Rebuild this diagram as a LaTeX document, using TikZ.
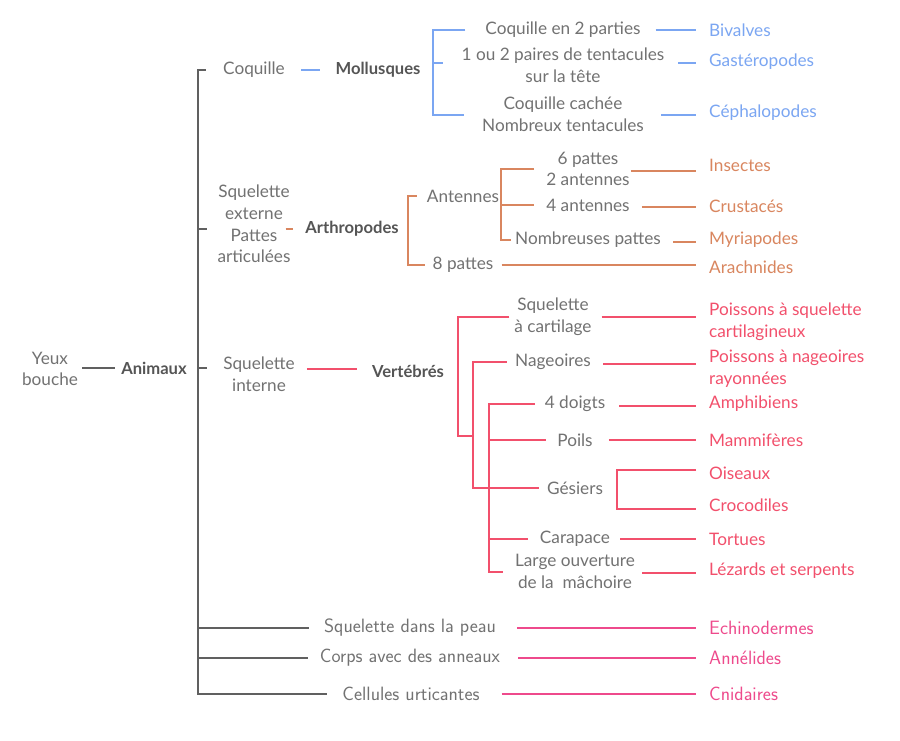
\documentclass[tikz,border=0pt]{standalone}
\usepackage{fontspec}
\setmainfont{Lato}
\usetikzlibrary{calc}
\definecolor{TextGray}{HTML}{727272}
\definecolor{HeadGray}{HTML}{555555}
\definecolor{LineGray}{HTML}{606060}
\definecolor{MolBlue}{HTML}{7BA6F2}
\definecolor{ArthOrange}{HTML}{D9865F}
\definecolor{VertRed}{HTML}{F2506C}
\definecolor{InvPink}{HTML}{EE4A8C}

\begin{document}
\begin{tikzpicture}[
  x=1pt, y=-1pt,
  txt/.style={text=TextGray, font=\fontsize{17.2}{21.7}\selectfont, align=center, inner sep=0pt},
  hd/.style={txt, text=HeadGray, font=\fontsize{16.6}{21.7}\selectfont\bfseries},
  lmtxt/.style={txt, font=\fontsize{19.3}{21.7}\selectfont\sffamily},
  leaf/.style={txt, anchor=west, align=left},
  lmleaf/.style={lmtxt, anchor=west, align=left},
  ln/.style={line width=2pt},
  tie/.style={ln, shorten <=12pt, shorten >=13pt},
]
  \fill[white] (0,0) rectangle (900,740);
  \useasboundingbox (0,0) rectangle (900,740);

  % root and first level
  \node[txt] (yeux) at (50,369) {Yeux\\bouche};
  \node[hd]  (anim) at (154,368) {Animaux};
  \node[txt] (coq)  at (254,70)  {Coquille};
  \node[hd]  (moll) at (378,70)  {Mollusques};
  \node[txt] (sqext) at (254,224) {Squelette\\externe\\Pattes\\articulées};
  \node[hd]  (arth) at (352,229) {Arthropodes};
  \node[txt] (sqint) at (259,374) {Squelette\\interne};
  \node[hd]  (vert) at (408,371) {Vertébrés};
  \node[lmtxt] (peau) at (410,628) {Squelette dans la peau};
  \node[lmtxt] (ann)  at (410,658) {Corps avec des anneaux};
  \node[lmtxt] (cell) at (411,694) {Cellules urticantes};

  % mollusques
  \node[txt] (c2p)  at (563,30)    {Coquille en 2 parties};
  \node[txt] (tent) at (563,65.5)  {1 ou 2 paires de tentacules\\sur la tête};
  \node[txt] (cach) at (563,114.5) {Coquille cachée\\Nombreux tentacules};
  \node[leaf, text=MolBlue] (biv)  at (709,30)  {Bivalves};
  \node[leaf, text=MolBlue] (gast) at (709,62)  {Gastéropodes};
  \node[leaf, text=MolBlue] (ceph) at (709,113) {Céphalopodes};

  % arthropodes
  \node[txt] (ant)  at (463,196) {Antennes};
  \node[txt] (p8)   at (463,265) {8 pattes};
  \node[txt] (p6)   at (588,169) {6 pattes\\2 antennes};
  \node[txt] (a4)   at (588,205) {4 antennes};
  \node[txt] (nomb) at (588,240) {Nombreuses pattes};
  \node[leaf, text=ArthOrange] (ins)   at (709,165) {Insectes};
  \node[leaf, text=ArthOrange] (crus)  at (709,206) {Crustacés};
  \node[leaf, text=ArthOrange] (myr)   at (709,240) {Myriapodes};
  \node[leaf, text=ArthOrange] (arach) at (709,267) {Arachnides};

  % vertebres
  \node[txt] (sqc)  at (553,317)   {Squelette\\à cartilage};
  \node[txt] (nag)  at (553,362)   {Nageoires};
  \node[txt] (doi)  at (575,404)   {4 doigts};
  \node[txt] (poi)  at (575,440)   {Poils};
  \node[txt] (ges)  at (575,488)   {Gésiers};
  \node[txt] (car)  at (575,539)   {Carapace};
  \node[txt] (mach) at (575,571.5) {Large ouverture\\de la\ \ mâchoire};
  \node[leaf, text=VertRed] (pcart) at (709,321.5) {Poissons à squelette\\cartilagineux};
  \node[leaf, text=VertRed] (pray)  at (709,369)   {Poissons à nageoires\\rayonnées};
  \node[leaf, text=VertRed] (amph)  at (709,404) {Amphibiens};
  \node[leaf, text=VertRed] (mamm)  at (709,440) {Mammifères};
  \node[leaf, text=VertRed] (ois)   at (709,473) {Oiseaux};
  \node[leaf, text=VertRed] (croc)  at (709,505) {Crocodiles};
  \node[leaf, text=VertRed] (tort)  at (709,539) {Tortues};
  \node[leaf, text=VertRed] (lez)   at (709,571) {Lézards et serpents};

  % autres
  \node[lmleaf, text=InvPink] (echi) at (709,628) {Echinodermes};
  \node[lmleaf, text=InvPink] (anne) at (709,658) {Annélides};
  \node[lmleaf, text=InvPink] (cnid) at (709,694) {Cnidaires};

  % bracket positions
  \coordinate (spine) at (198,0);
  \coordinate (bm) at (433,0);
  \coordinate (ba) at (408,0);
  \coordinate (bant) at (501,0);
  \coordinate (bv1) at (458,0);
  \coordinate (bv2) at (473,0);
  \coordinate (bv3) at (489,0);
  \coordinate (bges) at (617,0);

  % gray spine
  \draw[ln, LineGray, shorten <=4pt, shorten >=6pt] (yeux.east |- anim) -- (anim.west);
  \draw[ln, LineGray] ([xshift=-17pt]coq.west) -- (coq.west -| spine) -- (cell.west -| spine) -- ([xshift=-15pt]cell.west);
  \draw[ln, LineGray] (spine |- arth) -- ++(9,0);
  \draw[ln, LineGray] (spine |- anim) -- ++(9,0);
  \draw[ln, LineGray] (spine |- peau) -- ([xshift=-15pt]peau.west);
  \draw[ln, LineGray] (spine |- ann) -- ([xshift=-12pt]ann.west);

  % mollusques
  \draw[ln, MolBlue, shorten <=16pt, shorten >=15pt] (coq.east) -- (moll.west);
  \draw[ln, MolBlue] ([xshift=-20pt]c2p.west) -- (c2p.west -| bm) -- (cach.west -| bm) -- ([xshift=-18pt]cach.west);
  \draw[ln, MolBlue] ([yshift=3pt]tent.west -| bm) -- ++(10,0);
  \draw[tie, MolBlue, shorten <=15pt] (c2p.east) -- (c2p.east -| biv.west);
  \draw[tie, MolBlue, shorten <=14pt] ([yshift=3pt]tent.east) -- ([yshift=3pt]tent.east -| gast.west);
  \draw[tie, MolBlue, shorten <=17pt] (cach.east) -- (cach.east -| ceph.west);

  % arthropodes
  \draw[ln, ArthOrange] ([xshift=-5pt]sqext.east |- arth) -- ([xshift=-12pt]arth.west);
  \draw[ln, ArthOrange] ([xshift=-10pt]ant.west) -- (ant.west -| ba) -- (p8.west -| ba) -- ([xshift=-7pt]p8.west);
  \draw[ln, ArthOrange] ([xshift=-12pt]p6.west) -- (p6.west -| bant) -- (nomb.west -| bant) -- ([xshift=-4pt]nomb.west);
  \draw[ln, ArthOrange] (bant |- a4) -- ([xshift=-12pt]a4.west);
  \draw[tie, ArthOrange, shorten <=1pt] ([yshift=-2pt]p6.east) -- ([yshift=-2pt]p6.east -| ins.west);
  \draw[tie, ArthOrange] ([yshift=-2pt]a4.east) -- ([yshift=-2pt]a4.east -| crus.west);
  \draw[tie, ArthOrange] ([yshift=-2pt]nomb.east) -- ([yshift=-2pt]nomb.east -| myr.west);
  \draw[tie, ArthOrange, shorten <=8pt] (p8.east) -- (p8.east -| arach.west);

  % vertebres
  \draw[ln, VertRed, shorten <=12pt, shorten >=15pt] ([yshift=2pt]sqint.east |- vert) -- ([yshift=2pt]vert.west);
  \draw[ln, VertRed] ([xshift=-5pt]sqc.west) -- (sqc.west -| bv1) -- (bv1 |- 0,436) -- (bv2 |- 0,436);
  \draw[ln, VertRed] ([xshift=-8pt]nag.west) -- (nag.west -| bv2) -- (ges.west -| bv2) -- ([xshift=-8pt]ges.west);
  \draw[ln, VertRed] ([xshift=-10pt]doi.west) -- (doi.west -| bv3) -- (mach.west -| bv3) -- ([xshift=-12pt]mach.west);
  \draw[ln, VertRed] (bv3 |- poi) -- ([xshift=-11pt]poi.west);
  \draw[ln, VertRed] (bv3 |- car) -- ([xshift=-12pt]car.west);
  \draw[ln, VertRed] ([xshift=-13pt, yshift=3pt]ois.west) -- ([yshift=3pt]ois.west -| bges) -- ([yshift=-4pt]croc.west -| bges) -- ([xshift=-13pt, yshift=-4pt]croc.west);
  \draw[tie, VertRed, shorten <=10pt] (sqc.east) -- (sqc.east -| pcart.west);
  \draw[tie, VertRed] ([yshift=-2pt]nag.east) -- ([yshift=-2pt]nag.east -| pray.west);
  \draw[tie, VertRed, shorten <=14pt] ([yshift=-2pt]doi.east) -- ([yshift=-2pt]doi.east -| amph.west);
  \draw[tie, VertRed, shorten <=16pt] (poi.east) -- (poi.east -| mamm.west);
  \draw[tie, VertRed, shorten <=10pt] (car.east) -- (car.east -| tort.west);
  \draw[tie, VertRed, shorten <=7pt] ([yshift=-1pt]mach.east) -- ([yshift=-1pt]mach.east -| lez.west);

  % autres
  \draw[tie, InvPink, shorten <=21pt] (peau.east) -- (echi.west);
  \draw[tie, InvPink, shorten <=18pt] (ann.east) -- (anne.west);
  \draw[tie, InvPink, shorten <=22pt] (cell.east) -- (cnid.west);
\end{tikzpicture}
\end{document}
